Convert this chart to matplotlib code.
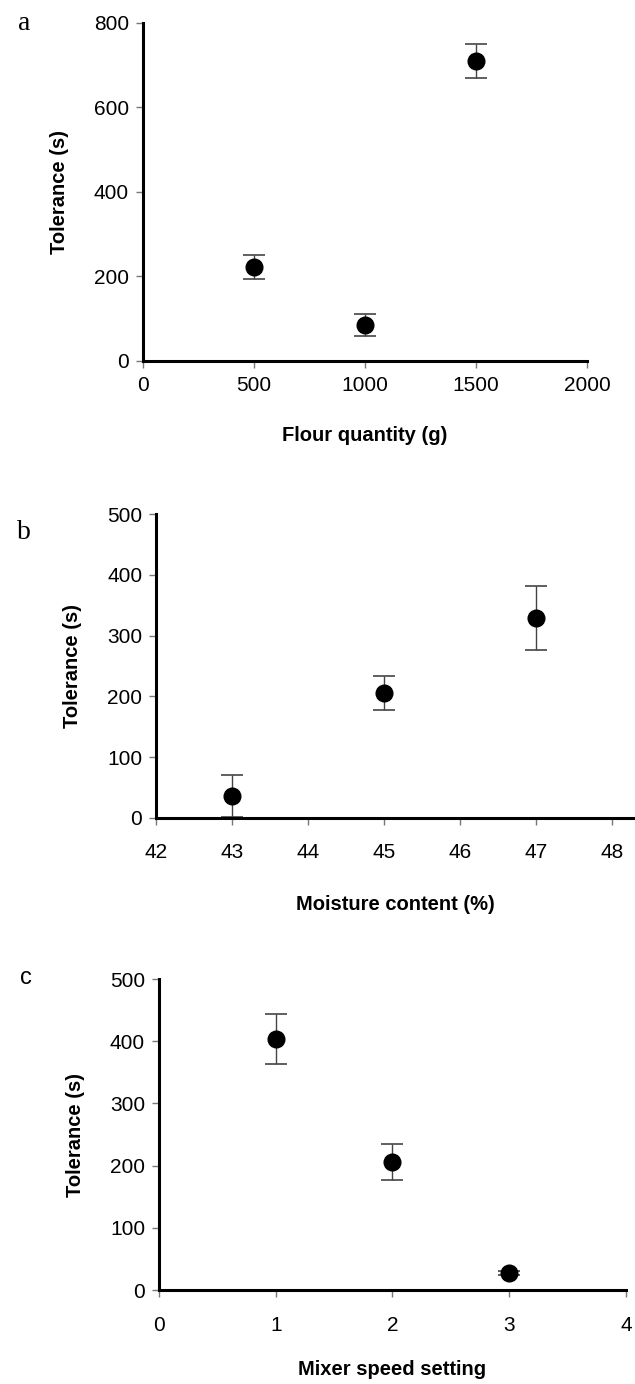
import matplotlib.pyplot as plt

# данные
flour_x = [500, 1000, 1500]
flour_y = [222, 85, 710]
flour_err = [29, 27, 40]

moist_x = [43, 45, 47]
moist_y = [36, 205, 329]
moist_err = [35, 28, 53]

speed_x = [1, 2, 3]
speed_y = [403, 206, 27]
speed_err = [40, 29, 3]

plt.rcParams['font.family'] = ['Liberation Sans', 'DejaVu Sans']

fig = plt.figure(figsize=(6.35, 13.84), dpi=100)


def panel(rect, x, y, err, xlim, ylim, xticks, yticks, xlab, tick_pad, lab_pad):
    ax = fig.add_axes(rect)
    ax.errorbar(x, y, yerr=err, fmt='o', color='black', ms=12,
                ecolor='#444444', elinewidth=1, capsize=8, capthick=1.2)
    ax.set_xlim(*xlim)
    ax.set_ylim(*ylim)
    ax.set_xticks(xticks)
    ax.set_yticks(yticks)
    for s in ['top', 'right']:
        ax.spines[s].set_visible(False)
    for s in ['left', 'bottom']:
        ax.spines[s].set_linewidth(2.2)
    ax.tick_params(direction='out', length=5, width=1, color='#777777',
                   labelsize=15)
    ax.tick_params(axis='y', pad=5)
    ax.tick_params(axis='x', pad=tick_pad)
    ax.set_ylabel('Tolerance (s)', fontsize=14.5, fontweight='bold', labelpad=18)
    ax.set_xlabel(xlab, fontsize=14.5, fontweight='bold', labelpad=lab_pad)
    return ax


panel([0.2252, 0.7392, 0.6992, 0.2442], flour_x, flour_y, flour_err,
      (0, 2000), (0, 800), [0, 500, 1000, 1500, 2000], [0, 200, 400, 600, 800],
      'Flour quantity (g)', 6, 22)

panel([0.2457, 0.4090, 0.7543, 0.2196], moist_x, moist_y, moist_err,
      (42, 48.3), (0, 500), [42, 43, 44, 45, 46, 47, 48],
      [0, 100, 200, 300, 400, 500], 'Moisture content (%)', 13, 24)

panel([0.2504, 0.0679, 0.7354, 0.2247], speed_x, speed_y, speed_err,
      (0, 4), (0, 500), [0, 1, 2, 3, 4], [0, 100, 200, 300, 400, 500],
      'Mixer speed setting', 14, 18)

# буквы панелей
fig.text(0.028, 0.983, 'a', fontsize=20, family='Liberation Serif', va='center')
fig.text(0.026, 0.615, 'b', fontsize=20, family='Liberation Serif', va='center')
fig.text(0.032, 0.293, 'c', fontsize=17, va='center')

plt.savefig('out.png', dpi=100)
